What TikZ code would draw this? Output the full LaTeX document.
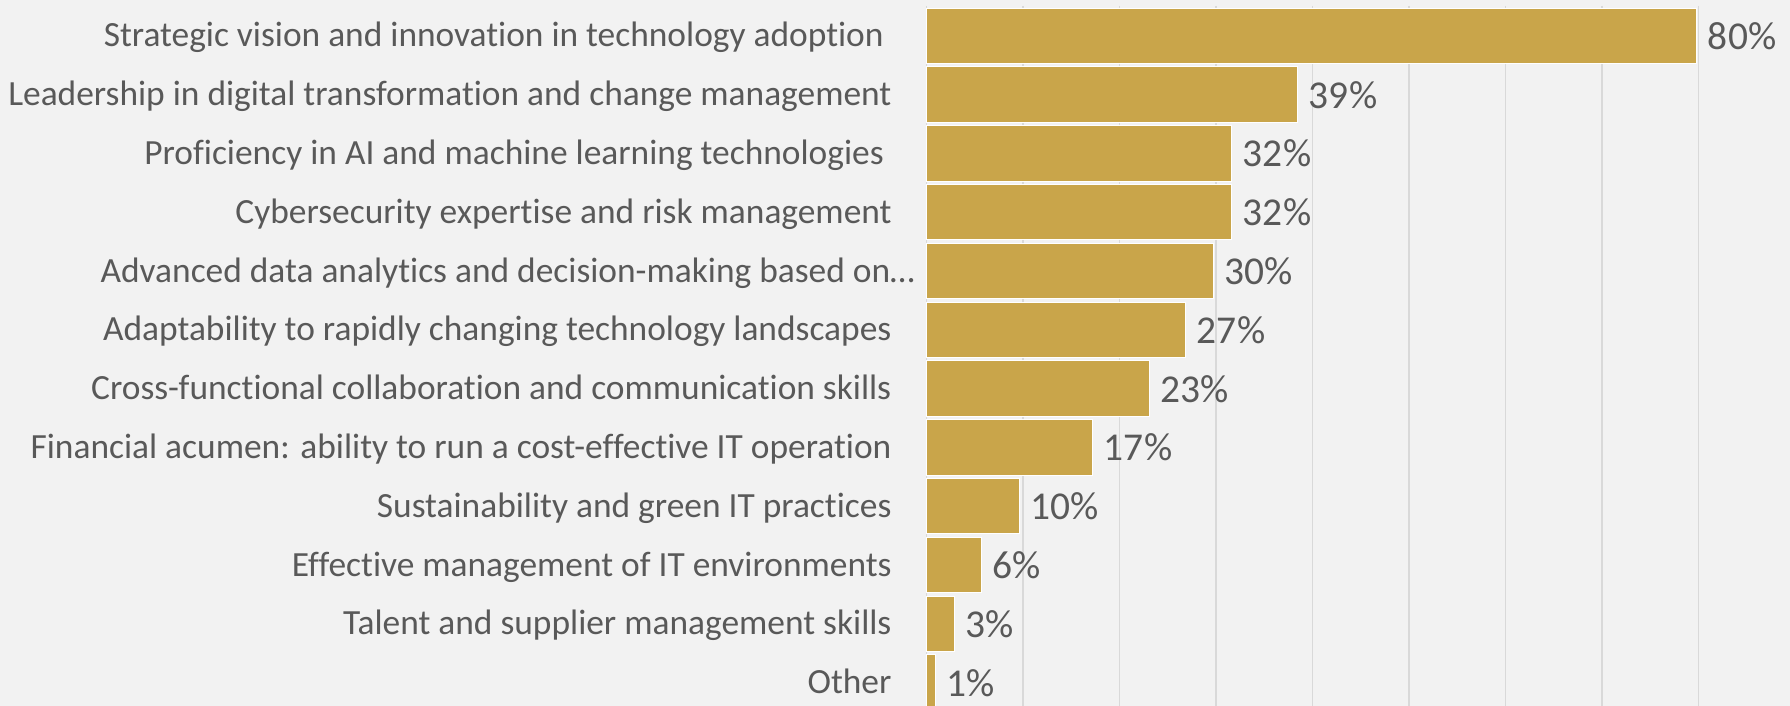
\documentclass[tikz,border=0pt]{standalone}
\usepackage{fontspec}
\setmainfont{Carlito}[Ligatures=NoCommon]
\usetikzlibrary{positioning}

\definecolor{barfill}{HTML}{C9A54A}
\definecolor{chartbg}{HTML}{F2F2F2}
\definecolor{txtgray}{HTML}{595959}
\definecolor{gridgray}{HTML}{D9D9D9}

\tikzset{
  bar/.style={draw=white, line width=0.75pt, fill=barfill, anchor=west,
    minimum height=41.6pt, inner sep=0pt, outer sep=0pt},
  lbl/.style={anchor=base east, inner sep=0pt, yshift=-8.3pt, text=txtgray,
    font=\fontsize{26.55}{31}\selectfont},
  pct/.style={anchor=base west, inner sep=0pt, xshift=8.25pt, yshift=-10.1pt,
    text=txtgray, font=\fontsize{29.6}{35}\selectfont},
  grid/.style={draw=gridgray, line width=1pt}
}

\begin{document}
\begin{tikzpicture}[x=0.75pt, y=-0.75pt]

  \fill[chartbg] (0,0) rectangle (1790,706);
  \useasboundingbox (0,0) rectangle (1790,706);
  \clip (0,0) rectangle (1790,706);

  % gridlines
  \draw[grid] (926.7,6) -- (926.7,706);
  \draw[grid] (1023.1,6) -- (1023.1,706);
  \draw[grid] (1119.6,6) -- (1119.6,706);
  \draw[grid] (1216.0,6) -- (1216.0,706);
  \draw[grid] (1312.5,6) -- (1312.5,706);
  \draw[grid] (1409.0,6) -- (1409.0,706);
  \draw[grid] (1505.4,6) -- (1505.4,706);
  \draw[grid] (1601.9,6) -- (1601.9,706);
  \draw[grid] (1698.3,6) -- (1698.3,706);

  % bars
  \node[bar, minimum width={770*0.75pt}] at (926.7,35.75) (bar1) {};
  \node[bar, minimum width={371*0.75pt}] at (926.7,94.55) (bar2) {};
  \node[bar, minimum width={305*0.75pt}] at (926.7,153.35) (bar3) {};
  \node[bar, minimum width={305*0.75pt}] at (926.7,212.15) (bar4) {};
  \node[bar, minimum width={286.6*0.75pt}] at (926.7,270.95) (bar5) {};
  \node[bar, minimum width={259*0.75pt}] at (926.7,329.75) (bar6) {};
  \node[bar, minimum width={222.3*0.75pt}] at (926.7,388.55) (bar7) {};
  \node[bar, minimum width={166*0.75pt}] at (926.7,447.35) (bar8) {};
  \node[bar, minimum width={92.3*0.75pt}] at (926.7,506.15) (bar9) {};
  \node[bar, minimum width={55*0.75pt}] at (926.7,564.95) (bar10) {};
  \node[bar, minimum width={27.3*0.75pt}] at (926.7,623.75) (bar11) {};
  \node[bar, minimum width={9*0.75pt}] at (926.7,682.55) (bar12) {};

  % category labels
  \node[lbl] at (884,35.75) (lbl1) {Strategic vision and innovation in technology adoption};
  \node[lbl] at (891.7,94.55) (lbl2) {Leadership in digital transformation and change management};
  \node[lbl] at (884,153.35) (lbl3) {Proficiency in AI and machine learning technologies};
  \node[lbl] at (891.7,212.15) (lbl4) {Cybersecurity expertise and risk management};
  \node[lbl] at (915,270.95) (lbl5) {Advanced data analytics and decision-making based on…};
  \node[lbl] at (891.7,329.75) (lbl6) {Adaptability to rapidly changing technology landscapes};
  \node[lbl] at (891.7,388.55) (lbl7) {Cross-functional collaboration and communication skills};
  \node[lbl] at (891.7,447.35) (lbl8) {Financial acumen: ability to run a cost-effective IT operation};
  \node[lbl] at (891.7,506.15) (lbl9) {Sustainability and green IT practices};
  \node[lbl] at (891.7,564.95) (lbl10) {Effective management of IT environments};
  \node[lbl] at (891.7,623.75) (lbl11) {Talent and supplier management skills};
  \node[lbl] at (891.7,682.55) (lbl12) {Other};

  % values
  \node[pct] at (bar1.east) (val1) {80\%};
  \node[pct] at (bar2.east) (val2) {39\%};
  \node[pct] at (bar3.east) (val3) {32\%};
  \node[pct] at (bar4.east) (val4) {32\%};
  \node[pct] at (bar5.east) (val5) {30\%};
  \node[pct] at (bar6.east) (val6) {27\%};
  \node[pct] at (bar7.east) (val7) {23\%};
  \node[pct] at (bar8.east) (val8) {17\%};
  \node[pct] at (bar9.east) (val9) {10\%};
  \node[pct] at (bar10.east) (val10) {6\%};
  \node[pct] at (bar11.east) (val11) {3\%};
  \node[pct] at (bar12.east) (val12) {1\%};

\end{tikzpicture}
\end{document}
